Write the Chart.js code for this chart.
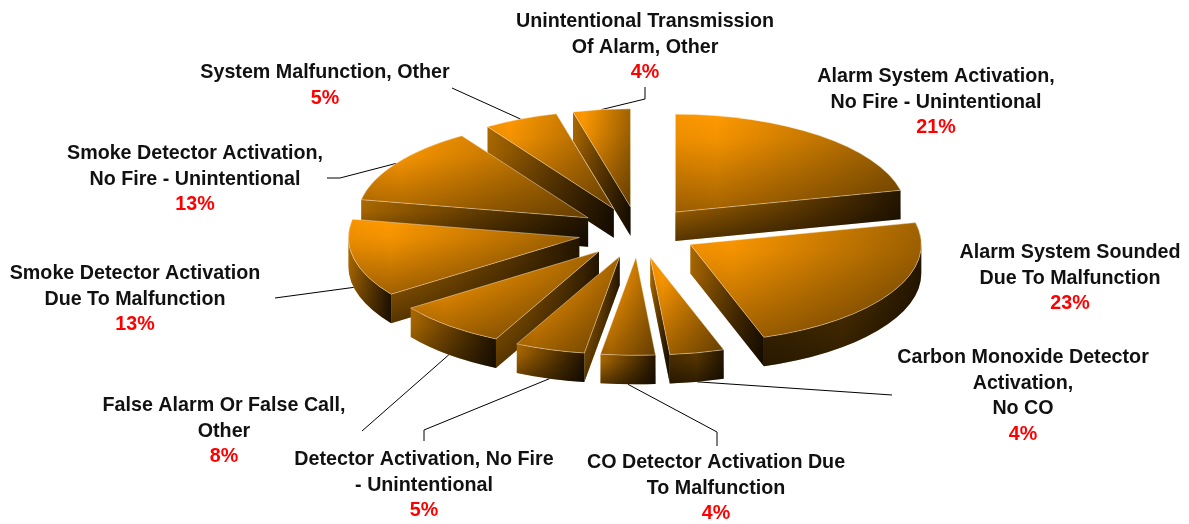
<!DOCTYPE html>
<html>
<head>
<meta charset="utf-8">
<style>
  html, body { margin: 0; padding: 0; background: #fff; }
  #wrap { position: relative; width: 1189px; height: 524px; }
</style>
<script src="https://cdn.jsdelivr.net/npm/chart.js@4/dist/chart.umd.min.js"></script>
</head>
<body>
<div id="wrap"><canvas id="chart"></canvas></div>
<script>
const categories = [
  ['Alarm System Activation,', 'No Fire - Unintentional'],
  ['Alarm System Sounded', 'Due To Malfunction'],
  ['Carbon Monoxide Detector', 'Activation,', 'No CO'],
  ['CO Detector Activation Due', 'To Malfunction'],
  ['Detector Activation, No Fire', '- Unintentional'],
  ['False Alarm Or False Call,', 'Other'],
  ['Smoke Detector Activation', 'Due To Malfunction'],
  ['Smoke Detector Activation,', 'No Fire - Unintentional'],
  ['System Malfunction, Other'],
  ['Unintentional Transmission', 'Of Alarm, Other'],
]
const shares = [21.4, 23.4, 3.8, 3.8, 4.9, 7.8, 12.8, 12.8, 5.2, 4.0]

// label block: centre x, first baseline y
const labelPos = [
  [936, 82], [1070, 258], [1023, 363], [716, 468], [424, 465],
  [224, 411], [135, 279], [195, 159], [325, 78], [645, 27],
]
// leader line, label side points (the slice end comes from the arc)
const leaderPts = [
  null, null,
  [[892, 395]],
  [[717, 446], [717, 432]],
  [[424, 441], [424, 430]],
  [[362, 431]],
  [[275, 298]],
  [[327, 178], [340, 178]],
  [[452, 88]],
  [[645, 87], [645, 99]],
]

const TILT = 0.424
const DEPTH = 29
const EXPLODE = 60
const LINE_H = 25.7

function paint(ctx, box, hStops, vEnd) {
  const h = ctx.createLinearGradient(box.x0, 0, box.x1, 0)
  hStops.forEach(s => h.addColorStop(s[0], s[1]))
  ctx.fillStyle = h
  ctx.fill()
  const v = ctx.createLinearGradient(0, box.y0, 0, box.y1)
  v.addColorStop(0, '#ffffff')
  v.addColorStop(0.25, '#f4f4f4')
  v.addColorStop(1, vEnd)
  ctx.globalCompositeOperation = 'multiply'
  ctx.fillStyle = v
  ctx.fill()
  ctx.globalCompositeOperation = 'source-over'
}

const TOP_STOPS = [[0, '#f79400'], [0.18, '#ff9900'], [1, '#a06200']]
const WALL_STOPS = [[0, '#ac6900'], [1, '#241500']]
const DARK_WALL_STOPS = [[0, '#4a2e00'], [0.5, '#573600'], [1, '#241500']]

function slicePoint(s, a) {
  return [s.tx + s.r * Math.cos(a), s.ty + s.r * TILT * Math.sin(a)]
}

function radialWall(ctx, s, a) {
  const p = slicePoint(s, a)
  ctx.beginPath()
  ctx.moveTo(s.tx, s.ty)
  ctx.lineTo(p[0], p[1])
  ctx.lineTo(p[0], p[1] + DEPTH)
  ctx.lineTo(s.tx, s.ty + DEPTH)
  ctx.closePath()
  paint(ctx, {
    x0: Math.min(s.tx, p[0]), x1: Math.max(s.tx, p[0]),
    y0: Math.min(s.ty, p[1]), y1: Math.max(s.ty, p[1]) + DEPTH,
  }, WALL_STOPS, '#808080')
}

function outerWall(ctx, s) {
  // only the near half of the rim can be seen
  const a0 = Math.max(s.a0, 0)
  const a1 = Math.min(s.a1, Math.PI)
  if (a1 <= a0) return
  const p0 = slicePoint(s, a0)
  const p1 = slicePoint(s, a1)
  ctx.beginPath()
  ctx.ellipse(s.tx, s.ty, s.r, s.r * TILT, 0, a0, a1)
  ctx.lineTo(p1[0], p1[1] + DEPTH)
  ctx.ellipse(s.tx, s.ty + DEPTH, s.r, s.r * TILT, 0, a1, a0, true)
  ctx.closePath()
  const right = (a0 + a1) / 2 < Math.PI / 2
  paint(ctx, {
    x0: Math.min(p0[0], p1[0]), x1: Math.max(p0[0], p1[0]),
    y0: Math.min(p0[1], p1[1]), y1: s.ty + s.r * TILT + DEPTH,
  }, right ? DARK_WALL_STOPS : WALL_STOPS, '#808080')
}

function topFace(ctx, s) {
  ctx.beginPath()
  ctx.moveTo(s.tx, s.ty)
  ctx.ellipse(s.tx, s.ty, s.r, s.r * TILT, 0, s.a0, s.a1)
  ctx.closePath()
  const xs = [s.tx], ys = [s.ty]
  const steps = 24
  for (let i = 0; i <= steps; i++) {
    const p = slicePoint(s, s.a0 + (s.a1 - s.a0) * i / steps)
    xs.push(p[0]); ys.push(p[1])
  }
  paint(ctx, {
    x0: Math.min(...xs), x1: Math.max(...xs),
    y0: Math.min(...ys), y1: Math.max(...ys),
  }, TOP_STOPS, '#a0a0a0')
  ctx.strokeStyle = 'rgba(255,240,215,0.55)'
  ctx.lineWidth = 0.8
  ctx.stroke()
}

const pie3d = {
  id: 'pie3d',
  beforeDraw(chart) {
    const ctx = chart.ctx
    ctx.save()
    ctx.fillStyle = '#ffffff'
    ctx.fillRect(0, 0, chart.width, chart.height)
    ctx.restore()
  },
  beforeDatasetsDraw(chart) {
    const ctx = chart.ctx
    const slices = chart.getDatasetMeta(0).data.map((arc, i) => {
      const p = arc.getProps(['x', 'y', 'startAngle', 'endAngle', 'outerRadius'])
      const mid = (p.startAngle + p.endAngle) / 2
      return {
        i, mid,
        a0: p.startAngle, a1: p.endAngle, r: p.outerRadius,
        tx: p.x + EXPLODE * Math.cos(mid),
        ty: p.y + EXPLODE * TILT * Math.sin(mid),
      }
    })

    ctx.save()
    // leaders sit behind the slices
    ctx.strokeStyle = '#000000'
    ctx.lineWidth = 1
    slices.forEach(s => {
      const pts = leaderPts[s.i]
      if (!pts) return
      const end = slicePoint(s, s.mid)
      const near = Math.sin(s.mid) > 0
      ctx.beginPath()
      pts.forEach((q, k) => k ? ctx.lineTo(q[0], q[1]) : ctx.moveTo(q[0], q[1]))
      ctx.lineTo(end[0], end[1] + (near ? DEPTH : 0))
      ctx.stroke()
    })

    // back to front
    slices.slice().sort((a, b) => Math.sin(a.mid) - Math.sin(b.mid)).forEach(s => {
      const startA = s.a0 + Math.PI / 2
      const endA = s.a1 + Math.PI / 2
      if (Math.sin(startA) < 0) radialWall(ctx, s, s.a0)
      if (Math.sin(endA) > 0) radialWall(ctx, s, s.a1)
      outerWall(ctx, s)
      topFace(ctx, s)
    })
    ctx.restore()
    return false
  },
  afterDraw(chart) {
    const ctx = chart.ctx
    const total = shares.reduce((a, b) => a + b, 0)
    ctx.save()
    ctx.font = 'bold 19.7px "Liberation Sans", Arial, sans-serif'
    ctx.textAlign = 'center'
    ctx.textBaseline = 'alphabetic'
    categories.forEach((lines, i) => {
      const [x, y] = labelPos[i]
      ctx.fillStyle = '#111111'
      lines.forEach((t, k) => ctx.fillText(t, x, y + k * LINE_H))
      ctx.fillStyle = '#ff0000'
      ctx.fillText(Math.round(shares[i] / total * 100) + '%', x, y + lines.length * LINE_H)
    })
    ctx.restore()
  },
}

new Chart(document.getElementById('chart'), {
  type: 'pie',
  data: {
    labels: categories,
    datasets: [{ data: shares, backgroundColor: '#ff9900', borderWidth: 0 }],
  },
  options: {
    responsive: true,
    maintainAspectRatio: false,
    animation: false,
    radius: 231,
    layout: { padding: { left: 87, right: 0, top: 0, bottom: 60 } },
    plugins: { legend: { display: false }, tooltip: { enabled: false } },
  },
  plugins: [pie3d],
})
</script>
</body>
</html>
